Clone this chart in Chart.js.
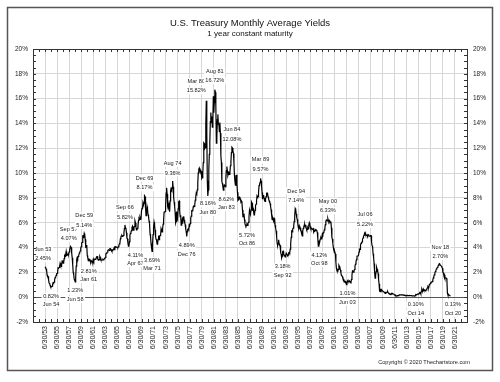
<!DOCTYPE html>
<html><head><meta charset="utf-8">
<script src="https://cdn.jsdelivr.net/npm/chart.js@4/dist/chart.umd.min.js"></script>
<style>html,body{margin:0;padding:0;background:#fff}#wrap{width:500px;height:382px}</style>
</head><body><div id="wrap"><canvas id="c" width="500" height="382"></canvas></div>
<script>
const titleText = 'U.S. Treasury Monthly Average Yields';
const subtitleText = '1 year constant maturity';
const copyrightText = 'Copyright \u00A9 2020 Thechartstore.com';

// monthly series, first value = June 1953
const seriesStartYear = 1953;
const seriesStartMonth = 6;
const yields = [
/*1953*/ 2.45,2.38,2.28,2.20,1.79,1.67,1.66,
/*1954*/ 1.41,1.14,1.13,0.96,0.85,0.82,0.84,0.88,1.03,1.17,1.14,1.21,
/*1955*/ 1.39,1.57,1.59,1.75,1.90,1.91,2.02,2.37,2.36,2.39,2.48,2.73,
/*1956*/ 2.58,2.49,2.61,2.92,2.94,2.74,2.76,3.10,3.35,3.28,3.44,3.68,
/*1957*/ 3.37,3.38,3.42,3.49,3.48,3.65,3.81,4.01,4.07,4.01,3.57,3.18,
/*1958*/ 2.65,1.99,1.84,1.45,1.37,1.23,1.61,2.50,3.05,3.19,3.10,3.29,
/*1959*/ 3.36,3.54,3.61,3.72,3.96,4.07,4.39,4.42,5.00,4.80,4.81,5.14,
/*1960*/ 5.03,4.66,4.02,4.04,4.21,3.36,3.20,2.95,3.07,3.04,3.08,2.86,
/*1961*/ 2.81,2.93,2.88,2.88,2.87,3.06,2.92,3.06,3.06,3.05,3.07,3.18,
/*1962*/ 3.28,3.28,3.06,2.99,3.03,3.03,3.29,3.20,3.06,2.98,3.00,3.01,
/*1963*/ 3.04,3.01,3.03,3.11,3.12,3.20,3.48,3.53,3.57,3.64,3.74,3.81,
/*1964*/ 3.79,3.78,3.91,3.91,3.84,3.83,3.72,3.74,3.84,3.86,3.91,4.02,
/*1965*/ 3.94,4.03,4.06,4.04,4.03,3.99,3.98,4.07,4.20,4.30,4.37,4.72,
/*1966*/ 4.88,4.94,4.97,4.90,4.93,4.97,5.17,5.54,5.82,5.58,5.54,5.20,
/*1967*/ 4.75,4.71,4.35,4.11,4.15,4.48,5.01,5.13,5.24,5.37,5.61,5.71,
/*1968*/ 5.43,5.41,5.58,5.71,6.14,5.98,5.65,5.43,5.45,5.57,5.75,6.19,
/*1969*/ 6.34,6.26,6.42,6.28,6.35,6.96,7.15,7.14,7.65,7.51,7.53,8.17,
/*1970*/ 8.10,7.27,6.57,6.79,7.31,7.06,6.64,6.51,6.13,5.93,5.09,4.88,
/*1971*/ 4.33,3.98,3.69,4.30,5.04,5.64,6.04,5.80,5.41,4.91,4.67,4.60,
/*1972*/ 4.28,4.27,4.67,4.96,4.64,4.93,4.96,4.98,5.52,5.52,5.27,5.52,
/*1973*/ 5.89,6.19,6.85,6.85,6.89,7.31,8.39,8.82,8.31,7.40,7.57,7.27,
/*1974*/ 7.42,6.88,7.76,8.62,8.78,8.67,8.80,9.36,8.87,8.05,7.66,7.31,
/*1975*/ 6.83,5.98,6.11,6.90,6.39,6.29,7.11,7.70,7.75,6.95,6.49,6.60,
/*1976*/ 5.81,5.91,6.21,5.92,6.40,6.52,6.20,6.00,5.84,5.50,5.29,4.89,
/*1977*/ 5.29,5.47,5.50,5.44,5.84,5.80,5.94,6.37,6.53,6.97,6.95,6.96,
/*1978*/ 7.28,7.34,7.31,7.45,7.82,8.09,8.39,8.31,8.64,9.14,10.01,10.30,
/*1979*/ 10.41,10.24,10.25,10.12,10.12,9.57,9.64,9.98,10.84,12.44,12.39,11.98,
/*1980*/ 12.06,13.92,15.82,13.30,9.39,8.16,8.65,10.24,11.52,12.49,14.15,14.88,
/*1981*/ 14.08,14.57,13.71,14.32,16.20,14.86,15.72,16.72,16.52,15.38,12.41,12.85,
/*1982*/ 14.32,14.73,13.95,13.98,13.34,14.07,13.24,11.43,10.85,9.32,9.16,8.91,
/*1983*/ 8.62,8.92,9.04,8.98,8.90,9.66,10.20,10.53,10.16,9.81,9.94,10.11,
/*1984*/ 9.90,10.04,10.59,10.90,11.66,12.08,12.03,11.82,11.58,10.90,9.82,9.33,
/*1985*/ 9.02,9.29,9.86,9.14,8.46,7.80,7.86,8.05,8.07,8.01,7.88,7.67,
/*1986*/ 7.73,7.61,7.03,6.44,6.65,6.73,6.27,5.93,5.77,5.72,5.80,5.87,
/*1987*/ 5.78,5.96,6.03,6.50,7.00,6.80,6.68,7.03,7.67,7.59,6.96,7.17,
/*1988*/ 6.99,6.64,6.71,7.01,7.40,7.49,7.75,8.17,8.09,8.11,8.48,8.99,
/*1989*/ 9.05,9.25,9.57,9.36,8.98,8.44,7.89,8.18,8.22,7.99,7.77,7.72,
/*1990*/ 7.92,8.11,8.35,8.40,8.32,8.10,7.94,7.78,7.76,7.55,7.31,7.05,
/*1991*/ 6.64,6.27,6.40,6.24,6.13,6.36,6.31,5.78,5.57,5.33,4.89,4.38,
/*1992*/ 4.15,4.29,4.63,4.30,4.19,4.17,3.60,3.47,3.18,3.30,3.68,3.71,
/*1993*/ 3.50,3.39,3.33,3.24,3.36,3.54,3.47,3.44,3.36,3.39,3.58,3.61,
/*1994*/ 3.54,3.87,4.32,4.82,5.31,5.27,5.48,5.56,5.76,6.11,6.54,7.14,
/*1995*/ 7.05,6.70,6.43,6.27,6.00,5.64,5.59,5.75,5.62,5.59,5.43,5.31,
/*1996*/ 5.09,4.94,5.34,5.54,5.64,5.81,5.85,5.67,5.83,5.55,5.42,5.47,
/*1997*/ 5.61,5.53,5.80,5.99,5.87,5.69,5.54,5.56,5.52,5.46,5.46,5.53,
/*1998*/ 5.24,5.31,5.39,5.38,5.44,5.41,5.36,5.21,4.71,4.12,4.53,4.52,
/*1999*/ 4.51,4.70,4.78,4.69,4.85,5.10,5.03,5.20,5.25,5.43,5.55,5.84,
/*2000*/ 6.12,6.22,6.22,6.15,6.33,6.17,6.08,6.18,6.13,6.01,6.09,5.60,
/*2001*/ 4.81,4.68,4.30,3.98,3.78,3.58,3.62,3.47,2.82,2.33,2.18,2.22,
/*2002*/ 2.16,2.23,2.57,2.48,2.35,2.20,1.96,1.76,1.72,1.65,1.49,1.45,
/*2003*/ 1.36,1.30,1.24,1.27,1.18,1.01,1.12,1.31,1.24,1.25,1.34,1.31,
/*2004*/ 1.24,1.24,1.19,1.43,1.78,2.12,2.10,2.02,2.12,2.23,2.50,2.67,
/*2005*/ 2.86,3.03,3.30,3.32,3.33,3.36,3.64,3.87,3.85,4.18,4.33,4.35,
/*2006*/ 4.45,4.68,4.77,4.90,5.00,5.16,5.22,5.08,4.97,5.01,5.01,4.94,
/*2007*/ 5.06,5.05,4.92,4.93,4.91,4.96,4.96,4.47,4.14,4.10,3.50,3.26,
/*2008*/ 2.71,2.05,1.54,1.74,2.06,2.42,2.28,2.18,1.91,1.42,1.07,0.49,
/*2009*/ 0.44,0.62,0.64,0.55,0.50,0.51,0.48,0.46,0.40,0.37,0.31,0.37,
/*2010*/ 0.35,0.35,0.40,0.45,0.37,0.32,0.29,0.26,0.26,0.23,0.25,0.29,
/*2011*/ 0.27,0.29,0.26,0.25,0.19,0.18,0.19,0.11,0.10,0.11,0.11,0.12,
/*2012*/ 0.12,0.16,0.19,0.18,0.19,0.19,0.19,0.18,0.18,0.18,0.18,0.16,
/*2013*/ 0.15,0.16,0.15,0.12,0.12,0.14,0.12,0.13,0.12,0.12,0.12,0.13,
/*2014*/ 0.12,0.12,0.13,0.11,0.10,0.10,0.11,0.11,0.11,0.10,0.13,0.21,
/*2015*/ 0.20,0.22,0.25,0.23,0.24,0.28,0.30,0.38,0.37,0.26,0.48,0.65,
/*2016*/ 0.54,0.53,0.66,0.56,0.59,0.55,0.51,0.57,0.59,0.66,0.74,0.87,
/*2017*/ 0.83,0.82,1.01,1.04,1.12,1.20,1.22,1.23,1.28,1.40,1.56,1.70,
/*2018*/ 1.80,1.96,2.06,2.15,2.27,2.33,2.39,2.45,2.56,2.65,2.70,2.66,
/*2019*/ 2.58,2.55,2.49,2.42,2.34,2.00,1.96,1.77,1.80,1.61,1.57,1.55,
/*2020*/ 1.53,1.41,0.33,0.18,0.16,0.18,0.15,0.13,0.13,0.13
];

const tickLabels = ['6/30/53','6/30/55','6/30/57','6/30/59','6/30/61','6/30/63','6/30/65','6/30/67','6/30/69','6/30/71','6/30/73','6/30/75','6/30/77','6/30/79','6/30/81','6/30/83','6/30/85','6/30/87','6/30/89','6/30/91','6/30/93','6/30/95','6/30/97','6/30/99','6/30/01','6/30/03','6/30/05','6/30/07','6/30/09','6/30/11','6/30/13','6/30/15','6/30/17','6/30/19','6/30/21'];
const yMin = -2, yMax = 20, yStep = 2;

const annotDates = ['Jun 53','Jun 54','Sep 57','Jun 58','Dec 59','Jan 61','Sep 66','Apr 67','Dec 69','Mar 71','Aug 74','Dec 76','Mar 80','Jun 80','Aug 81','Jan 83','Jun 84','Oct 86','Mar 89','Sep 92','Dec 94','Oct 98','May 00','Jun 03','Jul 06','Oct 14','Nov 18','Oct 20'];
const annotValues = [2.45,0.82,4.07,1.23,5.14,2.81,5.82,4.11,8.17,3.69,9.36,4.89,15.82,8.16,16.72,8.62,12.08,5.72,9.57,3.18,7.14,4.12,6.33,1.01,5.22,0.10,2.70,0.13];

// label placement (layout only): 1 = above point (date over value), -1 = below (value over date)
const annotSide = [1,-1,1,-1,1,-1,1,-1,1,-1,1,-1,1,-1,1,-1,1,-1,1,-1,1,-1,1,-1,1,-1,1,-1];
const annotNudgeX = [-2,0,-2,0,0,-2,0,7,0,0,0,0,-10,0,0,3,0,1,0,1,1,1,0,1,0,1,1,2];
const annotNudgeY = [0,0,0,0,0,0,0,0,0,0,0,0,-2,-1,-1,0,0,0,-1,0,0,0,0,0,0,0,1,0];

const FONT = '"Liberation Sans", Arial, sans-serif';
const monthIdx = {Jan:1,Feb:2,Mar:3,Apr:4,May:5,Jun:6,Jul:7,Aug:8,Sep:9,Oct:10,Nov:11,Dec:12};
function labelToYear(s){ // "Jun 53" or "6/30/53"
  let m, yy;
  if (s.indexOf('/')>=0){ const p=s.split('/'); m=+p[0]; yy=+p[2]; }
  else { const p=s.split(' '); m=monthIdx[p[0]]; yy=+p[1]; }
  const y = yy < 40 ? 2000+yy : 1900+yy;
  return y + m/12;
}
const points = yields.map((v,i)=>({x: seriesStartYear + (seriesStartMonth + i)/12, y: v}));
const tickYears = tickLabels.map(labelToYear);
const xMin = tickYears[0] - 2, xMax = tickYears[tickYears.length-1] + 2;
const labelByYear = new Map(tickYears.map((y,i)=>[y.toFixed(3), tickLabels[i]]));

const framePlugin = {
  id:'frame',
  afterDraw(chart){
    const {ctx, chartArea:a} = chart;
    const xs = chart.scales.x, ys = chart.scales.y;
    ctx.save();
    ctx.strokeStyle = '#333'; ctx.lineWidth = 1;
    ctx.strokeRect(Math.round(a.left)+0.5, Math.round(a.top)+0.5, Math.round(a.right-a.left), Math.round(a.bottom-a.top));
    ctx.beginPath();
    for (let v=yMin; v<=yMax+1e-9; v+=0.5){
      const py = Math.round(ys.getPixelForValue(v))+0.5;
      ctx.moveTo(a.left, py); ctx.lineTo(a.left+3, py);
      ctx.moveTo(a.right, py); ctx.lineTo(a.right-3, py);
    }
    for (let yv=xMin; yv<=xMax+1e-9; yv+=1){
      const px = Math.round(xs.getPixelForValue(yv))+0.5;
      ctx.moveTo(px, a.top); ctx.lineTo(px, a.top+3);
      ctx.moveTo(px, a.bottom); ctx.lineTo(px, a.bottom-3);
    }
    ctx.stroke();
    // outer frame
    ctx.strokeStyle = '#555'; ctx.lineWidth = 1.5;
    ctx.strokeRect(7.5, 7.5, 485, 363);
    // copyright
    ctx.fillStyle = '#222';
    ctx.font = '5.6px ' + FONT;
    ctx.textAlign = 'right'; ctx.textBaseline = 'middle';
    ctx.fillText(copyrightText, 470, 362);
    ctx.restore();
  }
};

const annotPlugin = {
  id:'annot',
  beforeDatasetsDraw(chart){
    const {ctx} = chart;
    const xs = chart.scales.x, ys = chart.scales.y;
    ctx.save();
    ctx.font = '5.6px ' + FONT;
    ctx.textAlign = 'center'; ctx.textBaseline = 'middle';
    annotDates.forEach((d,i)=>{
      const px = xs.getPixelForValue(labelToYear(d)) + annotNudgeX[i];
      const py = ys.getPixelForValue(annotValues[i]) + annotNudgeY[i];
      const valTxt = annotValues[i].toFixed(2) + '%';
      let lines;
      if (annotSide[i] > 0) lines = [[d, py-17.5],[valTxt, py-8]];
      else lines = [[valTxt, py+9],[d, py+17.5]];
      lines.forEach(([t,ly])=>{
        const w = ctx.measureText(t).width;
        ctx.fillStyle = '#fff';
        ctx.fillRect(px - w/2 - 1.5, ly - 3.5, w + 3, 7);
        ctx.fillStyle = '#222';
        ctx.fillText(t, px, ly);
      });
    });
    ctx.restore();
  }
};

const gridCol = '#d6d6d6';
new Chart(document.getElementById('c'), {
  type:'line',
  data:{ datasets:[{ data: points, borderColor:'#000', borderWidth:1.2, pointRadius:0, tension:0, fill:false }] },
  options:{
    responsive:false, animation:false, devicePixelRatio:1,
    layout:{ padding:0 },
    plugins:{
      legend:{display:false}, tooltip:{enabled:false},
      title:{ display:true, text:titleText, color:'#111', font:{family:FONT, size:9.5, weight:'normal', lineHeight:1}, padding:{top:18.25, bottom:0} },
      subtitle:{ display:true, text:subtitleText, color:'#111', font:{family:FONT, size:8, weight:'normal', lineHeight:1}, padding:{top:2.25, bottom:11} }
    },
    scales:{
      x:{
        type:'linear', position:'bottom', min:xMin, max:xMax,
        afterBuildTicks(s){ s.ticks = [xMin, ...tickYears, xMax].map(v=>({value:v})); },
        ticks:{ autoSkip:false, minRotation:90, maxRotation:90, padding:4, color:'#222',
          font:{family:FONT, size:7},
          callback:(v)=> labelByYear.get(Number(v).toFixed(3)) || '' },
        grid:{ color:gridCol, drawTicks:false, lineWidth:1 },
        border:{ display:false },
        afterFit(s){ s.height = 60; }
      },
      y:{
        position:'left', min:yMin, max:yMax,
        ticks:{ stepSize:yStep, padding:5, color:'#222', font:{family:FONT, size:6.5}, callback:v=>v+'%' },
        grid:{ color:(c)=> c.tick && c.tick.value===0 ? '#555' : gridCol, drawTicks:false },
        border:{ display:false },
        afterFit(s){ s.width = 33; }
      },
      y2:{
        position:'right', min:yMin, max:yMax,
        ticks:{ stepSize:yStep, padding:6, color:'#222', font:{family:FONT, size:6.5}, callback:v=>v+'%' },
        grid:{ display:false, drawTicks:false },
        border:{ display:false },
        afterFit(s){ s.width = 33; }
      }
    }
  },
  plugins:[annotPlugin, framePlugin]
});
</script></body></html>
